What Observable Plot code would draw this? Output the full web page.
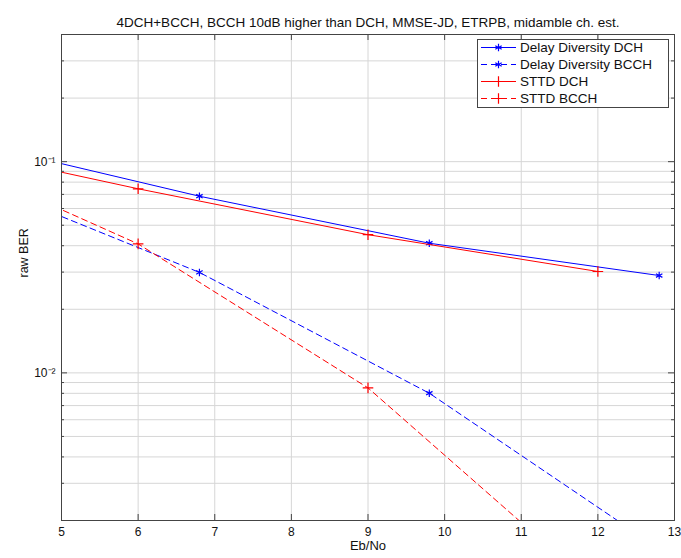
<!DOCTYPE html>
<html><head><meta charset="utf-8">
<script src="https://cdn.jsdelivr.net/npm/d3@7"></script>
<script src="https://cdn.jsdelivr.net/npm/@observablehq/plot@0.6"></script>
<style>body{margin:0;background:#fff}</style>
</head><body><div id="chart"></div>
<script>
const title = "4DCH+BCCH, BCCH 10dB higher than DCH, MMSE-JD, ETRPB, midamble ch. est.";
const xLabel = "Eb/No";
const yLabel = "raw BER";
const seriesNames = ["Delay Diversity DCH", "Delay Diversity BCCH", "STTD DCH", "STTD BCCH"];
const seriesColors = ["#0000ff", "#0000ff", "#ff0000", "#ff0000"];
const seriesDashed = [false, true, false, true];
const seriesSymbols = ["asterisk", "asterisk", "plus", "plus"];
const ddX = [3.8, 6.8, 9.8, 12.8];
const ddDCH = [0.124, 0.0686, 0.0411, 0.0289];
const ddBCCH = [0.0826, 0.0299, 0.00801, 0.00147];
const sttdX = [3, 6, 9, 12];
const sttdDCH = [0.128, 0.0744, 0.0451, 0.0302];
const sttdBCCH = [0.125, 0.0408, 0.00849, 0.00094];
const xTicks = [5, 6, 7, 8, 9, 10, 11, 12, 13];
const yMajorTicks = [0.1, 0.01];
const yTickLabels = ["10⁻¹", "10⁻²"];
const yMinorTicks = [0.002, 0.003, 0.004, 0.005, 0.006, 0.007, 0.008, 0.009,
  0.02, 0.03, 0.04, 0.05, 0.06, 0.07, 0.08, 0.09, 0.2, 0.3, 0.4];

const W = 681, H = 558;
const mL = 61, mR = 7, mT = 34, mB = 38;
const iW = W - mL - mR, iH = H - mT - mB;

const xsList = [ddX, ddX, sttdX, sttdX];
const ysList = [ddDCH, ddBCCH, sttdDCH, sttdBCCH];
const rows = [];
seriesNames.forEach((s, k) => xsList[k].forEach((x, i) => rows.push({series: s, k, x, y: ysList[k][i]})));

const labelMap = new Map(yMajorTicks.map((d, i) => [d, yTickLabels[i]]));
const gridCol = "#d6d6d6";

const marks = [
  Plot.gridX(xTicks.slice(1, -1), {stroke: gridCol, strokeOpacity: 1}),
  Plot.gridY([...yMinorTicks.filter(d => d < 0.4), ...yMajorTicks], {stroke: gridCol, strokeOpacity: 1}),
];
seriesNames.forEach((s, k) => {
  const data = rows.filter(r => r.k === k);
  marks.push(Plot.line(data, {x: "x", y: "y", stroke: seriesColors[k], strokeWidth: 1,
    strokeDasharray: seriesDashed[k] ? "6,4" : null, clip: true}));
  marks.push(Plot.dot(data, {x: "x", y: "y", stroke: seriesColors[k], symbol: seriesSymbols[k],
    r: 3.5, strokeWidth: 1.2, clip: true}));
});
marks.push(
  Plot.tickX(xTicks, {x: d => d, insetTop: iH - 6, stroke: "#444"}),
  Plot.tickX(xTicks, {x: d => d, insetBottom: iH - 6, stroke: "#444"}),
  Plot.tickY(yMajorTicks, {y: d => d, insetRight: iW - 6, stroke: "#444"}),
  Plot.tickY(yMajorTicks, {y: d => d, insetLeft: iW - 6, stroke: "#444"}),
  Plot.tickY(yMinorTicks, {y: d => d, insetRight: iW - 3, stroke: "#444"}),
  Plot.tickY(yMinorTicks, {y: d => d, insetLeft: iW - 3, stroke: "#444"}),
  Plot.frame({stroke: "#444", strokeWidth: 1}),
  Plot.axisX(xTicks, {tickSize: 0, tickPadding: 7, fontSize: 12, tickFormat: d => String(d), label: null}),
  Plot.axisY(yMajorTicks, {tickSize: 0, tickPadding: 6, fontSize: 12, tickFormat: d => labelMap.get(d), label: null}),
  Plot.text([title], {frameAnchor: "top", dy: -17, fontSize: 13.5, fill: "#111"}),
  Plot.text([xLabel], {frameAnchor: "bottom", dy: 29, fontSize: 13, fill: "#111"}),
  Plot.text([yLabel], {frameAnchor: "left", dx: -38, rotate: -90, fontSize: 12.5, fill: "#111"})
);

const chart = Plot.plot({
  width: W, height: H,
  marginLeft: mL, marginRight: mR, marginTop: mT, marginBottom: mB,
  style: {fontFamily: "'Liberation Sans', Arial, sans-serif", fontSize: "11px", background: "#fff", color: "#111"},
  x: {domain: [5, 13], axis: null},
  y: {type: "log", domain: [0.002, 0.4], axis: null},
  marks
});
document.getElementById("chart").append(chart);

// legend box inside the axes (top-right)
const svg = d3.select(chart);
const lg = svg.append("g").attr("font-family", "'Liberation Sans', Arial, sans-serif")
  .attr("font-size", 13.5).attr("text-anchor", "start");
lg.append("rect").attr("x", 477.5).attr("y", 39.5).attr("width", 191).attr("height", 68)
  .attr("fill", "#fff").attr("stroke", "#444");
const symGen = {asterisk: d3.symbolAsterisk, plus: d3.symbolPlus};
seriesNames.forEach((s, k) => {
  const yy = 47.5 + k * 17;
  lg.append("line").attr("x1", 481).attr("x2", 516).attr("y1", yy).attr("y2", yy)
    .attr("stroke", seriesColors[k]).attr("stroke-dasharray", seriesDashed[k] ? "6,4" : null);
  lg.append("path").attr("transform", `translate(498.5,${yy})`)
    .attr("d", d3.symbol(symGen[seriesSymbols[k]], 38)())
    .attr("fill", "none").attr("stroke", seriesColors[k]).attr("stroke-width", 1.2);
  lg.append("text").attr("x", 520).attr("y", yy).attr("dy", "0.35em").attr("fill", "#111").text(s);
});
</script>
</body></html>
